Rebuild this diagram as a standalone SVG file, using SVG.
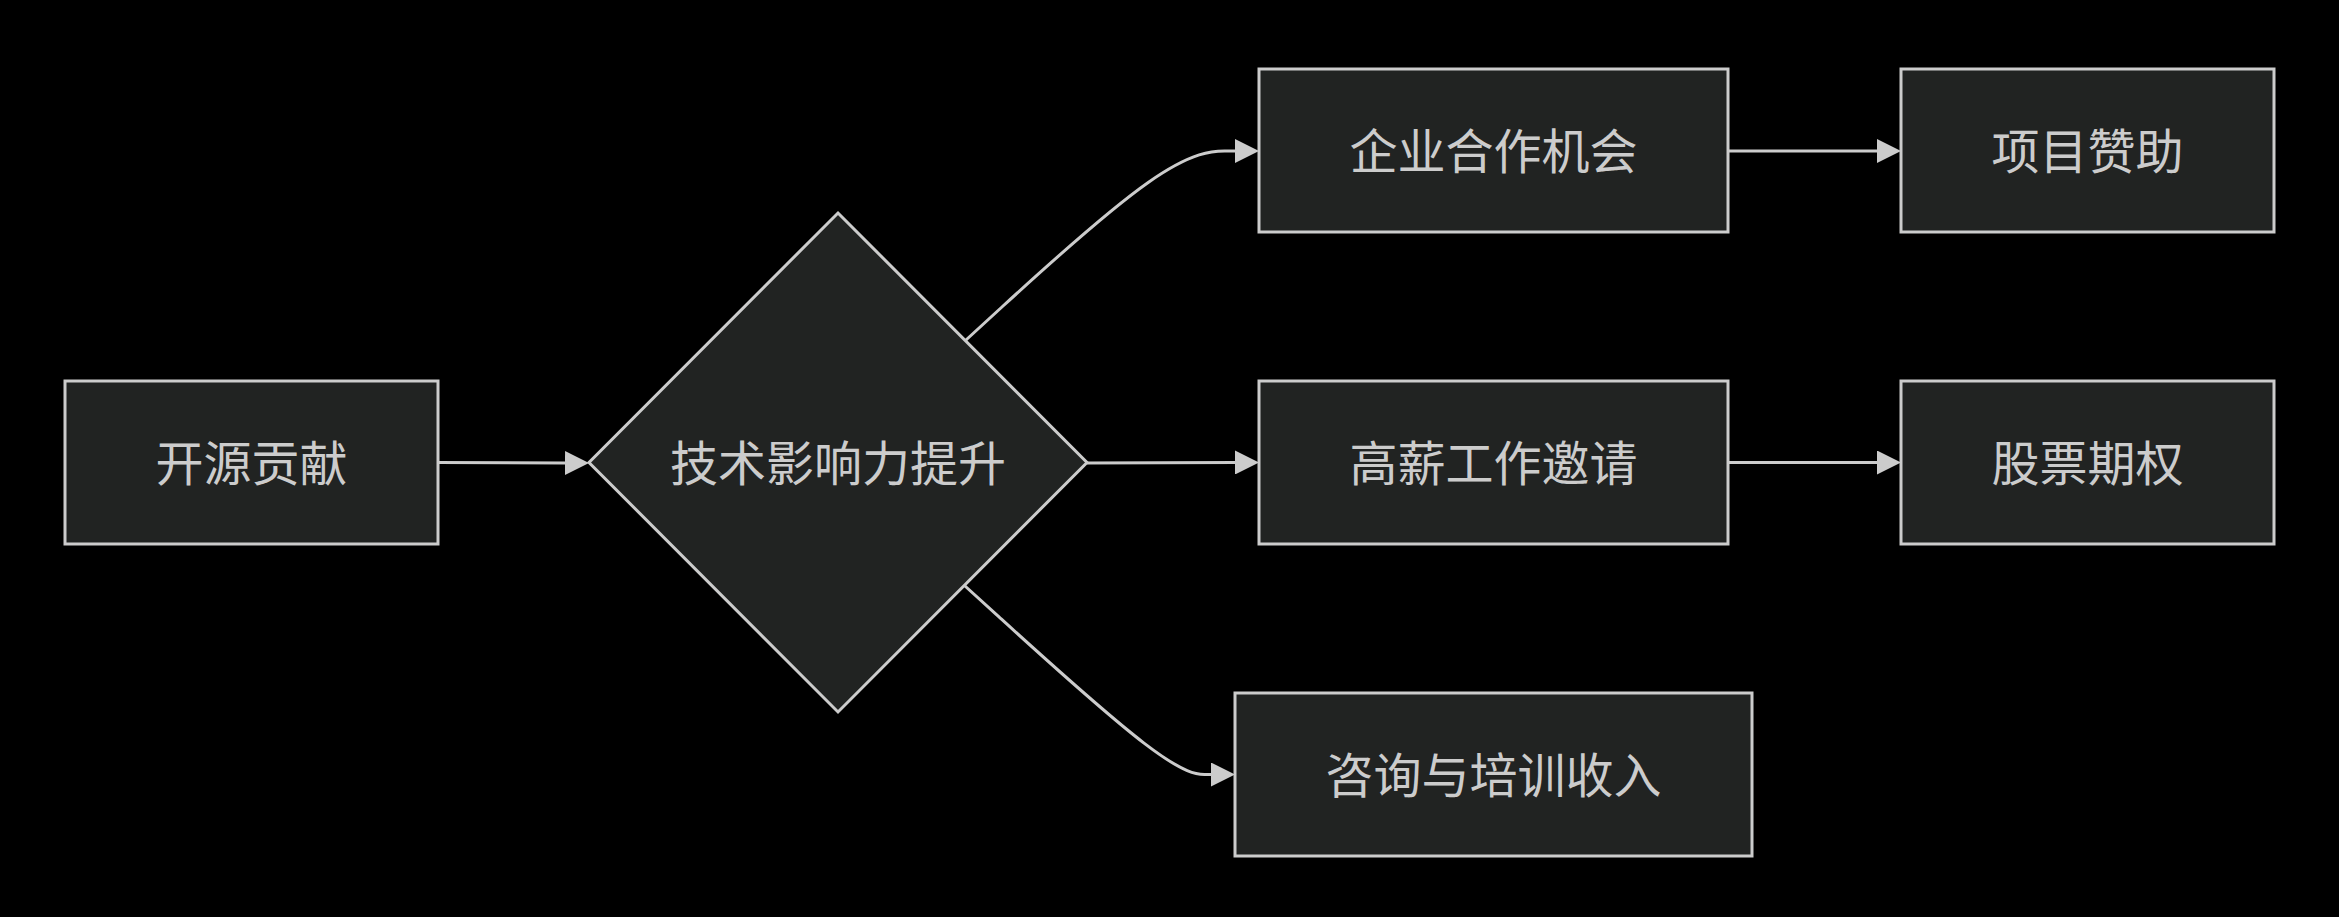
<svg xmlns="http://www.w3.org/2000/svg" width="2339" height="917" viewBox="0 0 2339 917">
<style>
.node rect,.node polygon{fill:#212322;stroke:#cccccc;stroke-width:3}
.node text{fill:#cccccc;font-family:"Noto Sans CJK SC","Noto Sans",sans-serif;font-size:48px;text-anchor:middle;dominant-baseline:central}
.edge{fill:none;stroke:#cccccc;stroke-width:3;marker-end:url(#arrow)}
</style>
<defs>
<marker id="arrow" viewBox="0 0 24 24" refX="0" refY="12" markerWidth="24" markerHeight="24" markerUnits="userSpaceOnUse" orient="auto">
<path d="M0,0 L24,12 L0,24 z" fill="#cccccc"/>
</marker>
</defs>
<rect width="2339" height="917" fill="#000000"/>
<g id="connectors">
<path class="edge" d="M438,462.5 L565,463"/>
<path class="edge" d="M966,340 L1000.3,308.5 C1034.7,277 1103.3,214 1148.2,182.5 C1193,151 1214,151 1224.5,151 L1235,151"/>
<path class="edge" d="M1087,463 L1235,462.5"/>
<path class="edge" d="M965,586 L999.5,617.4 C1034,648.8 1103,711.7 1144,743.1 C1185,774.5 1198,774.5 1204.5,774.5 L1211,774.5"/>
<path class="edge" d="M1728,151 L1877,151"/>
<path class="edge" d="M1728,462.5 L1877,462.5"/>
</g>
<g id="node-kaiyuan" class="node">
<rect x="65" y="381" width="373" height="163"/>
<text x="251.5" y="459.5">开源贡献</text>
</g>
<g id="node-jishu" class="node">
<polygon points="838,213 1087,462.5 838,712 589,462.5"/>
<text x="838" y="459.5">技术影响力提升</text>
</g>
<g id="node-qiye" class="node">
<rect x="1259" y="69" width="469" height="163"/>
<text x="1493.5" y="147.5">企业合作机会</text>
</g>
<g id="node-gaoxin" class="node">
<rect x="1259" y="381" width="469" height="163"/>
<text x="1493.5" y="459.5">高薪工作邀请</text>
</g>
<g id="node-zixun" class="node">
<rect x="1235" y="693" width="517" height="163"/>
<text x="1493.5" y="771.5">咨询与培训收入</text>
</g>
<g id="node-xiangmu" class="node">
<rect x="1901" y="69" width="373" height="163"/>
<text x="2087.5" y="147.5">项目赞助</text>
</g>
<g id="node-gupiao" class="node">
<rect x="1901" y="381" width="373" height="163"/>
<text x="2087.5" y="459.5">股票期权</text>
</g>
</svg>
